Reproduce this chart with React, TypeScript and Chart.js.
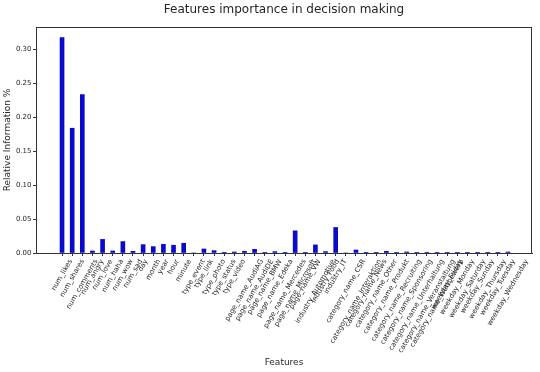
import React, { useEffect, useRef } from 'react';
import { Chart, registerables } from 'chart.js';

Chart.register(...registerables);

const chartTitle = 'Features importance in decision making';
const xAxisTitle = 'Features';
const yAxisTitle = 'Relative Information %';

const features = [
  'num_likes', 'num_shares', 'num_comments', 'num_angry', 'num_love', 'num_haha', 'num_wow', 'num_sad',
  'day', 'month', 'year', 'hour', 'minute',
  'type_event', 'type_link', 'type_photo', 'type_status', 'type_video',
  'page_name_AudiAG', 'page_name_AudiDE', 'page_name_BMW', 'page_name_Edeka', 'page_name_Mercedes',
  'page_name_Microsoft', 'page_name_VW',
  'industry_Automotive', 'industry_Food', 'industry_IT',
  'category_name_CSR', 'category_name_Interaktion', 'category_name_News', 'category_name_Other',
  'category_name_Produkt', 'category_name_Recruiting', 'category_name_Sponsoring',
  'category_name_Unterhaltung', 'category_name_Veranstaltung', 'category_name_Wettbewerb',
  'weekday_Friday', 'weekday_Monday', 'weekday_Saturday', 'weekday_Sunday', 'weekday_Thursday',
  'weekday_Tuesday', 'weekday_Wednesday',
];

const importance = [
  0.317, 0.1835, 0.233, 0.003, 0.020, 0.003, 0.0168, 0.0025,
  0.0123, 0.0094, 0.0128, 0.0114, 0.0143,
  0, 0.0059, 0.0035, 0.0005, 0.0015,
  0.0025, 0.0054, 0.001, 0.002, 0.0005,
  0.0326, 0.0005,
  0.0119, 0.002, 0.0375,
  0, 0.0044, 0.0005, 0.0005,
  0.0025, 0.0005, 0.0015,
  0.0005, 0.0005, 0.0005,
  0.0005, 0.0005, 0.0005, 0.0005, 0.0005,
  0.0005, 0.0015,
];

const yTickValues = [0, 0.05, 0.1, 0.15, 0.2, 0.25, 0.3];

const TEXT = '#262626';
const SPINE = '#333333';
const BAR = '#0a0acd';
const FONT = "'DejaVu Sans', sans-serif";

const frameAndLabels = {
  id: 'frameAndLabels',
  afterDraw(chart: any) {
    const { ctx, chartArea } = chart;
    const xs = chart.scales.x;
    ctx.save();
    ctx.strokeStyle = SPINE;
    ctx.lineWidth = 1;
    ctx.strokeRect(
      Math.round(chartArea.left) + 0.5,
      Math.round(chartArea.top) + 0.5,
      Math.round(chartArea.right - chartArea.left) - 1,
      Math.round(chartArea.bottom - chartArea.top)
    );
    // title centred over the axes
    ctx.font = `12px ${FONT}`;
    ctx.fillStyle = TEXT;
    ctx.textAlign = 'center';
    ctx.textBaseline = 'middle';
    ctx.fillText(chartTitle, (chartArea.left + chartArea.right) / 2, 10);
    // rotated, centre-aligned x tick labels
    ctx.font = `7px ${FONT}`;
    const ang = Math.PI / 3;
    const h = 8;
    const top = chartArea.bottom + 5;
    features.forEach((lab, i) => {
      const x = xs.getPixelForValue(i);
      const w = ctx.measureText(lab).width;
      const H = w * Math.sin(ang) + h * Math.cos(ang);
      ctx.save();
      ctx.translate(x, top + H / 2);
      ctx.rotate(-ang);
      ctx.fillText(lab, 0, 0);
      ctx.restore();
    });
    ctx.restore();
  },
};

export default function App() {
  const canvasRef = useRef<HTMLCanvasElement | null>(null);

  useEffect(() => {
    document.body.style.margin = '0';
    const canvas = canvasRef.current;
    if (!canvas) return;
    Chart.defaults.font.family = FONT;
    const chart = new Chart(canvas, {
      type: 'bar',
      data: {
        datasets: [
          {
            data: importance.map((v, i) => ({ x: i, y: v })),
            backgroundColor: BAR,
            borderWidth: 0,
            barThickness: 4,
          },
        ],
      },
      options: {
        animation: false,
        responsive: true,
        maintainAspectRatio: false,
        layout: { padding: { top: 27, right: 8, left: 0, bottom: 0 } },
        plugins: {
          legend: { display: false },
          tooltip: { enabled: false },
          title: { display: false },
        },
        scales: {
          x: {
            type: 'linear',
            min: -2.57,
            max: 46.37,
            offset: false,
            afterBuildTicks: (s: any) => {
              s.ticks = features.map((_, i) => ({ value: i }));
            },
            afterFit: (s: any) => {
              s.height = 119;
            },
            ticks: { display: false, autoSkip: false },
            grid: { offset: false, drawOnChartArea: false, drawTicks: true, tickLength: 3, color: SPINE },
            border: { display: true, color: SPINE },
            title: {
              display: true,
              text: xAxisTitle,
              color: TEXT,
              font: { size: 9, family: FONT },
              padding: { top: 0, bottom: 4 },
            },
          },
          y: {
            min: 0,
            max: 0.3324,
            afterBuildTicks: (s: any) => {
              s.ticks = yTickValues.map((v) => ({ value: v }));
            },
            afterFit: (s: any) => {
              s.width = 36;
            },
            ticks: {
              color: TEXT,
              font: { size: 7, family: FONT },
              padding: 1.5,
              callback: (v: any) => Number(v).toFixed(2),
            },
            grid: { drawOnChartArea: false, drawTicks: true, tickLength: 3, color: SPINE },
            border: { display: true, color: SPINE },
            title: {
              display: true,
              text: yAxisTitle,
              color: TEXT,
              font: { size: 9, family: FONT },
              padding: { top: 2.5, bottom: 0 },
            },
          },
        },
      },
      plugins: [frameAndLabels],
    });
    return () => chart.destroy();
  }, []);

  return (
    <div style={{ width: 540, height: 372, position: 'relative' }}>
      <canvas ref={canvasRef} />
    </div>
  );
}
